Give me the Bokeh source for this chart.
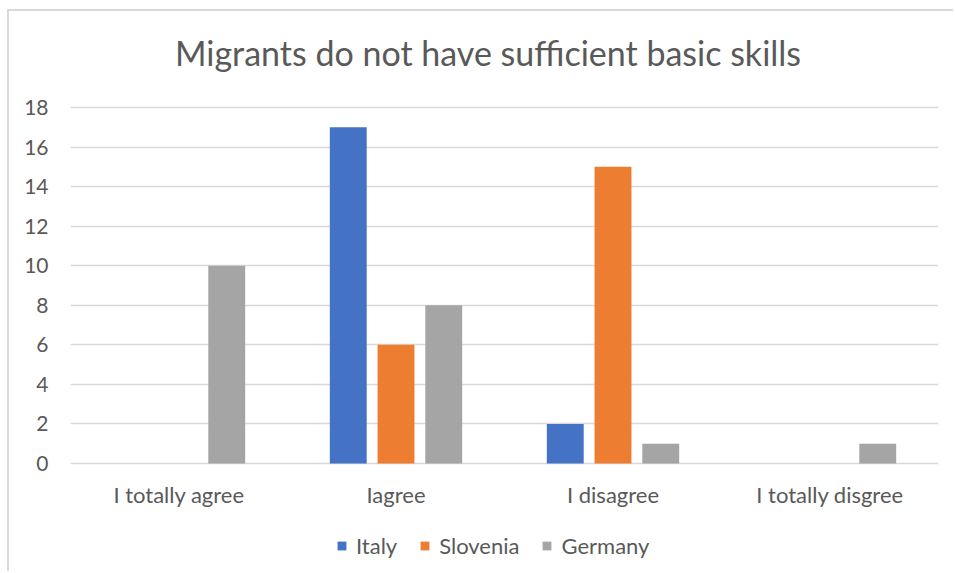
from bokeh.plotting import figure
from bokeh.models import FactorRange, ColumnDataSource, Legend, LegendItem
from bokeh.core.properties import value
from bokeh.transform import dodge
from bokeh.embed import file_html
from bokeh.resources import INLINE

title_text = "Migrants do not have sufficient basic skills"
categories = ["I totally agree", "Iagree", "I disagree", "I totally disgree"]
series_names = ["Italy", "Slovenia", "Germany"]
italy = [0, 17, 2, 0]
slovenia = [0, 6, 15, 0]
germany = [10, 8, 1, 1]
y_ticks = [0, 2, 4, 6, 8, 10, 12, 14, 16, 18]

colors = ["#4472C4", "#ED7D31", "#A5A5A5"]
FONT = "Lato"
TXT = "#595959"

src = ColumnDataSource(dict(cat=categories, Italy=italy, Slovenia=slovenia, Germany=germany))

p = figure(x_range=FactorRange(*categories, range_padding=0), y_range=(-5.56, 22.853),
           x_axis_location=None, title=None,
           width=946, height=562, output_backend="svg", toolbar_location=None,
           min_border_left=61, min_border_right=17, min_border_top=0, min_border_bottom=0)
p.styles = {"margin-left": "7px", "margin-top": "9px",
            "border-left": "2px solid #d9d9d9", "border-top": "2px solid #d9d9d9"}
p.outline_line_color = None
p.background_fill_color = "white"
p.border_fill_color = "white"

offsets = [-0.22, 0.0, 0.22]
renderers = []
for name, col, off in zip(series_names, colors, offsets):
    r = p.vbar(x=dodge("cat", off, range=p.x_range), top=name, width=0.17, source=src,
               fill_color=col, line_color=None)
    renderers.append(r)

# category labels under the baseline
p.text(x="cat", y=-1.57, text="cat", source=src, text_align="center", text_baseline="middle",
       text_font=value(FONT), text_font_size="22px", text_color=TXT)

# chart title, centred over the chart area
p.text(x=[1.924], y=[20.78], text=[title_text], text_align="center", text_baseline="middle",
       text_font=value(FONT), text_font_size="34px", text_color=TXT)

p.yaxis.ticker = y_ticks
p.ygrid.ticker = y_ticks
p.ygrid.grid_line_color = "#D9D9D9"
p.ygrid.grid_line_width = 1.3
p.xgrid.grid_line_color = None
ax = p.yaxis
ax.axis_line_color = None
ax.major_tick_line_color = None
ax.minor_tick_line_color = None
ax.major_tick_out = 0
ax.major_tick_in = 0
ax.major_label_text_font = FONT
ax.major_label_text_color = TXT
ax.major_label_text_font_size = "21px"
ax.major_label_standoff = 22

legend = Legend(items=[LegendItem(label=n, renderers=[r]) for n, r in zip(series_names, renderers)],
                orientation="horizontal", location=(266, 14),
                glyph_width=11, glyph_height=11, label_standoff=9, spacing=22,
                padding=0, margin=0, border_line_color=None, background_fill_alpha=0,
                label_text_font=FONT, label_text_color=TXT, label_text_font_size="22px")
p.add_layout(legend, "center")

open("out.html", "w").write(file_html(p, INLINE))
